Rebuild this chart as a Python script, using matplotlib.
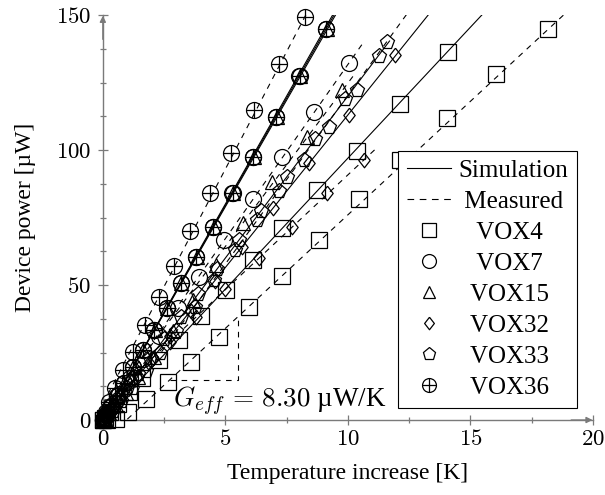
"""
Device power versus temperature increase, simulation and measurement
"""

import matplotlib

matplotlib.use("Agg")
import matplotlib.pyplot as plt
import numpy as np
from matplotlib.lines import Line2D
from matplotlib.legend_handler import HandlerTuple

plt.rcParams["font.family"] = ["Liberation Serif", "DejaVu Serif"]
plt.rcParams["mathtext.fontset"] = "cm"

devices = ["VOX4", "VOX7", "VOX15", "VOX32", "VOX33", "VOX36"]

# simulated points
sim_x = {
    "VOX4": [14.1, 12.14, 10.38, 8.75, 7.33, 6.11, 5.03, 4.0, 3.1, 2.3, 1.6, 1.05, 0.62, 0.3, 0.1, 0],
    "VOX7": [9.1, 8.0, 7.05, 6.13, 5.28, 4.5, 3.8, 3.18, 2.61, 2.09, 1.64, 1.23, 0.87, 0.57, 0.33, 0.16, 0.05, 0],
    "VOX15": [9.16, 8.06, 7.1, 6.17, 5.32, 4.53, 3.83, 3.2, 2.63, 2.11, 1.65, 1.23, 0.87, 0.57, 0.34, 0.16, 0.05, 0],
    "VOX32": [11.93, 10.04, 8.41, 6.95, 5.66, 4.56, 3.58, 2.74, 2.04, 1.44, 0.96, 0.58, 0.29, 0.11, 0.02, 0],
    "VOX33": [11.25, 9.9, 8.65, 7.5, 6.45, 5.57, 4.67, 3.88, 3.17, 2.5, 1.92, 1.42, 1.0, 0.62, 0.33, 0.12, 0.03, 0],
    "VOX36": [9.12, 8.04, 7.06, 6.11, 5.3, 4.48, 3.8, 3.2, 2.6, 2.1, 1.63, 1.22, 0.87, 0.57, 0.33, 0.16, 0.05, 0],
}
sim_y = {
    "VOX4": [136.2, 116.9, 99.7, 85.2, 71.0, 59.3, 48.1, 38.4, 29.7, 22.1, 15.6, 10.2, 6.0, 2.9, 0.9, 0],
    "VOX7": [144.7, 127.4, 112.1, 97.5, 84.0, 71.6, 60.5, 50.6, 41.5, 33.3, 26.0, 19.5, 13.8, 9.0, 5.3, 2.5, 0.8, 0],
    "VOX15": [144.7, 127.4, 112.1, 97.5, 84.0, 71.6, 60.5, 50.6, 41.5, 33.3, 26.0, 19.5, 13.8, 9.0, 5.3, 2.5, 0.8, 0],
    "VOX32": [135.2, 113.0, 95.1, 78.5, 64.0, 51.5, 40.5, 31.0, 23.0, 16.3, 10.8, 6.5, 3.3, 1.2, 0.2, 0],
    "VOX33": [135.0, 119.1, 104.0, 90.0, 77.5, 66.7, 56.0, 46.5, 38.0, 30.0, 23.0, 17.0, 12.0, 7.5, 4.0, 1.5, 0.3, 0],
    "VOX36": [144.7, 127.4, 112.1, 97.5, 84.0, 71.6, 60.5, 50.6, 41.5, 33.3, 26.0, 19.5, 13.8, 9.0, 5.3, 2.5, 0.8, 0],
}

# measured points
meas_x = {
    "VOX4": [18.17, 16.04, 14.04, 12.14, 10.45, 8.82, 7.3, 5.95, 4.72, 3.6, 2.65, 1.78, 1.03, 0.55, 0.15, 0],
    "VOX7": [10.04, 8.62, 7.33, 6.11, 4.96, 3.94, 3.05, 2.3, 1.65, 1.1, 0.65, 0.33, 0.13, 0.03, 0],
    "VOX15": [9.77, 8.35, 6.92, 5.7, 4.62, 3.67, 2.85, 2.1, 1.45, 0.95, 0.55, 0.27, 0.1, 0],
    "VOX32": [10.65, 9.16, 7.74, 6.38, 5.0, 3.8, 2.75, 1.9, 1.2, 0.7, 0.35, 0.15, 0.05, 0],
    "VOX33": [11.6, 10.38, 9.23, 8.21, 7.2, 6.31, 5.4, 4.55, 3.75, 3.0, 2.35, 1.75, 1.2, 0.75, 0.4, 0.15, 0],
    "VOX36": [8.25, 7.17, 6.18, 5.23, 4.38, 3.57, 2.9, 2.29, 1.71, 1.23, 0.83, 0.49, 0.27, 0.12, 0.03, 0],
}
meas_y = {
    "VOX4": [144.8, 128.1, 111.7, 96.3, 81.7, 66.7, 53.3, 41.7, 30.9, 21.4, 14.2, 7.8, 3.1, 0.3, 0.1, 0],
    "VOX7": [132.1, 114.2, 97.5, 81.7, 66.7, 53.1, 41.4, 31.0, 22.5, 15.5, 9.5, 5.0, 2.0, 0.5, 0],
    "VOX15": [122.2, 104.9, 88.3, 72.8, 57.4, 44.4, 33.0, 23.5, 16.0, 10.0, 5.5, 2.5, 0.8, 0],
    "VOX32": [96.3, 84.0, 71.6, 59.9, 48.5, 38.0, 29.0, 21.0, 14.5, 9.0, 5.0, 2.0, 0.5, 0],
    "VOX33": [140.1, 122.2, 108.6, 96.3, 85.0, 74.1, 63.0, 52.0, 42.0, 33.0, 25.0, 18.0, 12.0, 7.0, 3.5, 1.0, 0],
    "VOX36": [149.4, 131.9, 114.8, 98.8, 84.0, 70.0, 57.0, 45.4, 35.2, 25.3, 18.5, 11.7, 6.5, 3.0, 0.8, 0],
}

# linear fits drawn through the data: slope [uW/K], offset [uW], last x [K]
sim_slope = {"VOX4": 9.7, "VOX7": 15.9, "VOX15": 15.8, "VOX32": 11.3, "VOX33": 12.0, "VOX36": 16.0}
sim_offset = {"VOX4": 0.0, "VOX7": 0.0, "VOX15": 0.0, "VOX32": 0.0, "VOX33": 0.0, "VOX36": 0.0}
sim_xmax = {"VOX4": 20, "VOX7": 20, "VOX15": 20, "VOX32": 20, "VOX33": 11.7, "VOX36": 20}
meas_slope = {"VOX4": 8.41, "VOX7": 12.9, "VOX15": 12.1, "VOX32": 8.5, "VOX33": 12.5, "VOX36": 17.4}
meas_offset = {"VOX4": -8.1, "VOX7": 2.7, "VOX15": 3.8, "VOX32": 5.8, "VOX33": -4.7, "VOX36": 5.95}
meas_xmax = {"VOX4": 20, "VOX7": 10.6, "VOX15": 10.3, "VOX32": 11.2, "VOX33": 20, "VOX36": 20}

# slope triangle for the G_eff annotation
tri_x = [2.73, 5.52, 5.52]
tri_y = [15.0, 15.0, 38.2]
g_eff = 8.30

# thin diamond like the pgfplots one
DIAMOND = [(0, 1), (0.78, 0), (0, -1), (-0.78, 0), (0, 1)]
markers = {"VOX4": "s", "VOX7": "o", "VOX15": "^", "VOX32": DIAMOND, "VOX33": "p", "VOX36": "o"}
msize = {"VOX4": 11.5, "VOX7": 11.5, "VOX15": 10, "VOX32": 10.5, "VOX33": 11, "VOX36": 11.5}
leg_size = {"VOX4": 10, "VOX7": 10, "VOX15": 8.5, "VOX32": 9, "VOX33": 9.5, "VOX36": 10}

AXIS_GRAY = "#7a7a7a"
DASH = (0, (5, 5))

fig = plt.figure(figsize=(6.05, 4.95), dpi=100)
ax = fig.add_axes([0.170, 0.1515, 0.810, 0.818])
ax.set_xlim(0, 20)
ax.set_ylim(0, 150)

for dev in devices:
    for slope, offset, xmax, ls in [
        (sim_slope[dev], sim_offset[dev], sim_xmax[dev], "-"),
        (meas_slope[dev], meas_offset[dev], meas_xmax[dev], DASH),
    ]:
        xs = np.array([0.0, xmax])
        ax.plot(xs, slope * xs + offset, color="black", lw=0.8, ls=ls, zorder=2)
    for xs, ys in [(sim_x[dev], sim_y[dev]), (meas_x[dev], meas_y[dev])]:
        ax.plot(xs, ys, ls="none", marker=markers[dev], ms=msize[dev], mfc="none",
                mec="black", mew=0.9, clip_on=False, zorder=3)
        if dev == "VOX36":
            ax.plot(xs, ys, ls="none", marker="+", ms=msize[dev], mec="black",
                    mew=0.9, clip_on=False, zorder=3)

# G_eff slope triangle
ax.plot(tri_x, tri_y, color="black", lw=0.8, ls=DASH, zorder=2)
ax.text(2.85, 7.0, r"$G_{eff}\,=\,%.2f$ µW/K" % g_eff, fontsize=19.5,
        va="center", ha="left", zorder=4)

# axis lines in the middle style of pgfplots
for side in ["top", "right"]:
    ax.spines[side].set_visible(False)
for side in ["left", "bottom"]:
    ax.spines[side].set_color(AXIS_GRAY)
    ax.spines[side].set_linewidth(1.0)
ax.annotate("", xy=(20.1, 0), xytext=(19.0, 0),
            arrowprops=dict(arrowstyle="-|>", color=AXIS_GRAY, lw=1.0, mutation_scale=9),
            annotation_clip=False)
ax.annotate("", xy=(0, 150.8), xytext=(0, 140),
            arrowprops=dict(arrowstyle="-|>", color=AXIS_GRAY, lw=1.0, mutation_scale=9),
            annotation_clip=False)

ax.set_xticks([0, 5, 10, 15, 20])
ax.set_xticks([2.5, 7.5, 12.5, 17.5], minor=True)
ax.set_yticks([0, 50, 100, 150])
ax.set_yticks([12.5, 25, 37.5, 62.5, 75, 87.5, 112.5, 125, 137.5], minor=True)
ax.set_xticklabels(["$%d$" % v for v in [0, 5, 10, 15, 20]])
ax.set_yticklabels(["$%d$" % v for v in [0, 50, 100, 150]])
ax.tick_params(which="major", direction="inout", length=7, width=0.9, color=AXIS_GRAY,
               labelsize=16.5)
ax.tick_params(axis="y", which="major", pad=5)
ax.tick_params(axis="x", which="major", pad=3)
ax.tick_params(which="minor", direction="inout", length=5, width=0.9, color=AXIS_GRAY)

ax.set_xlabel("Temperature increase [K]", fontsize=17, labelpad=9)
ax.set_ylabel("Device power [µW]", fontsize=17, labelpad=14)

handles = [
    Line2D([], [], color="black", lw=0.8),
    Line2D([], [], color="black", lw=0.8, ls=(0, (6, 5))),
]
for dev in devices:
    h = Line2D([], [], ls="none", marker=markers[dev], ms=leg_size[dev], mfc="none",
               mec="black", mew=0.9)
    if dev == "VOX36":
        h = (h, Line2D([], [], ls="none", marker="+", ms=leg_size[dev], mec="black", mew=0.9))
    handles.append(h)
# leading spaces centre the shorter labels like the original legend
labels = ["Simulation", " Measured", "   VOX4", "   VOX7",
          "  VOX15", "  VOX32", "  VOX33", "  VOX36"]
leg = ax.legend(handles, labels, loc="lower right", bbox_to_anchor=(0.967, 0.03),
                borderaxespad=0, fontsize=18, frameon=True, fancybox=False,
                edgecolor="black", framealpha=1, handlelength=1.75, handletextpad=0.3,
                labelspacing=0.34, borderpad=0.35,
                handler_map={tuple: HandlerTuple(ndivide=1, pad=0)})
leg.get_frame().set_linewidth(0.8)
leg.set_zorder(10)

fig.savefig("out.png", dpi=100)
